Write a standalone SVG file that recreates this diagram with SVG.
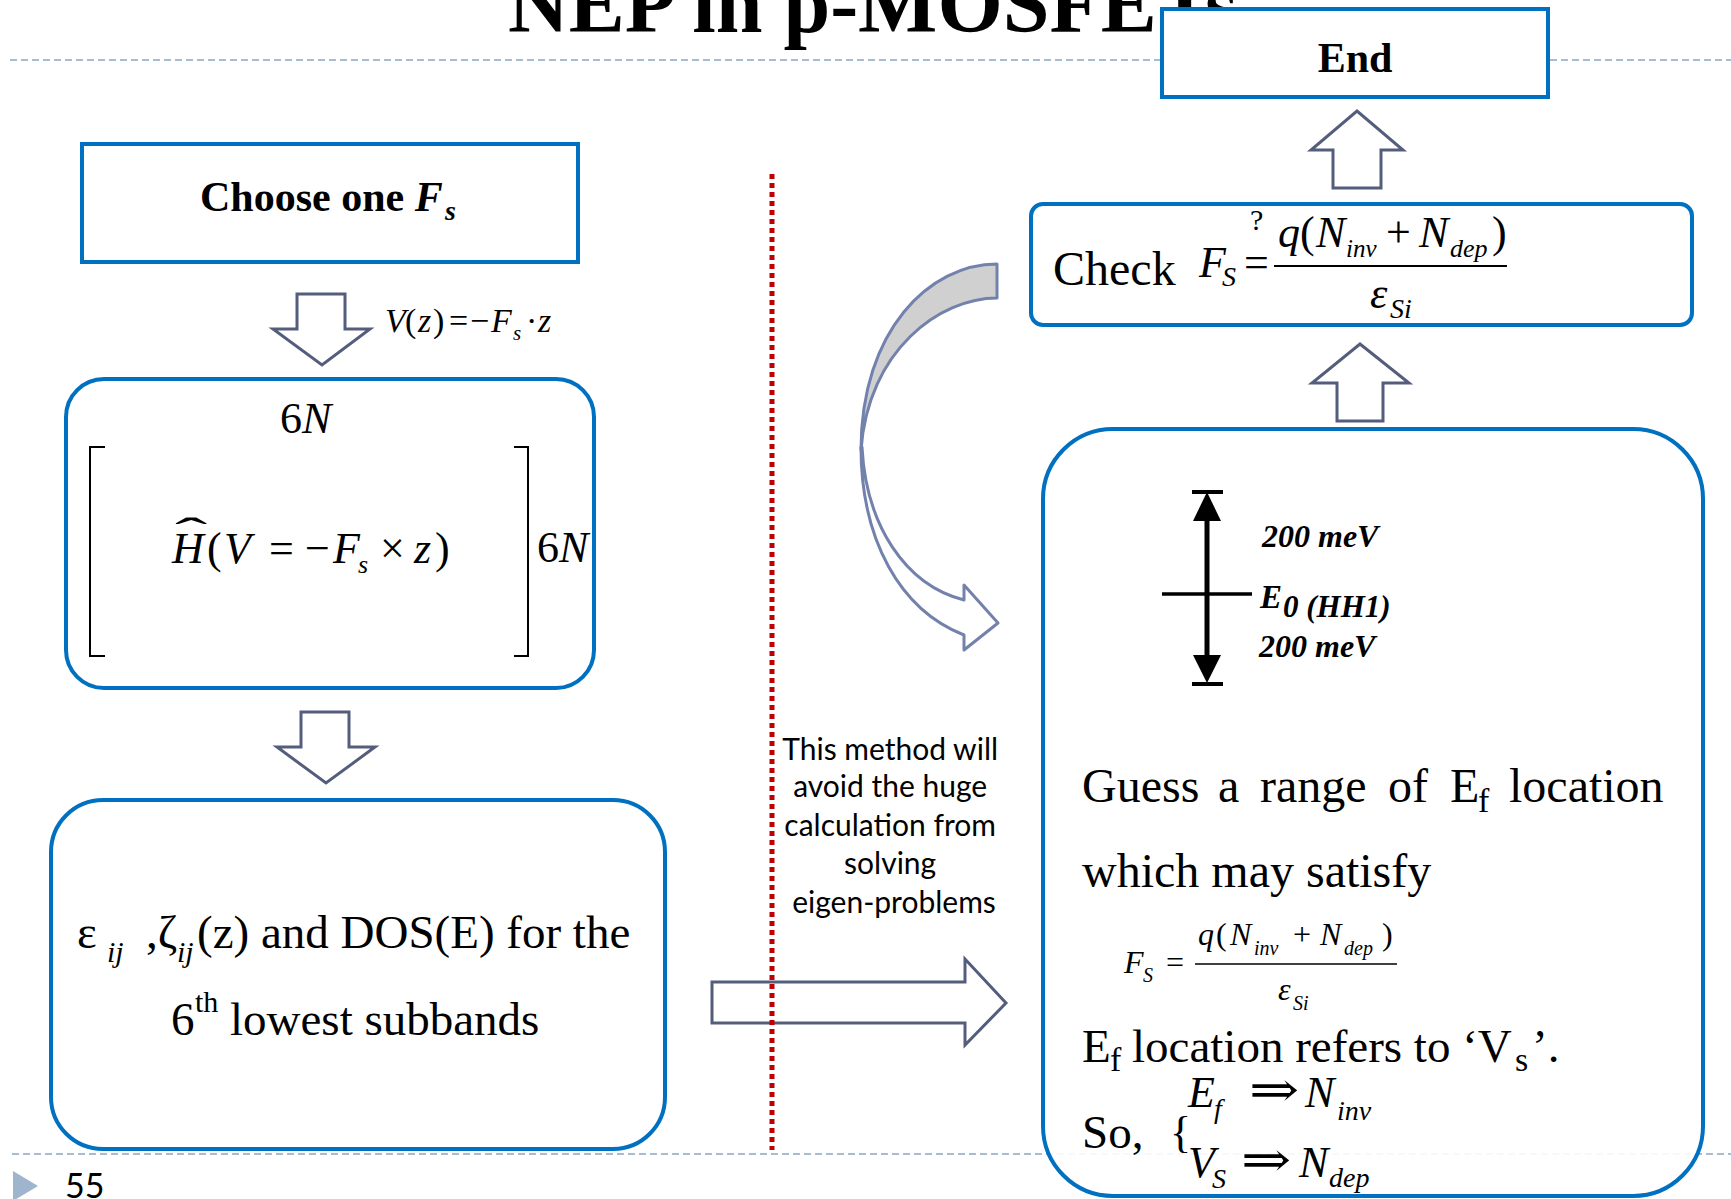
<svg xmlns="http://www.w3.org/2000/svg" width="1731" height="1199" viewBox="0 0 1731 1199">
<style>
.bg{fill:#ffffff}
.box{fill:#ffffff;stroke:#0070c0;stroke-width:4}
.blk{fill:#ffffff;stroke:#555d7c;stroke-width:3;stroke-linejoin:miter}
.guide{stroke:#a7bbd3;stroke-width:2;stroke-dasharray:7 4;fill:none}
.s{font-family:"Liberation Serif","Times New Roman",serif;fill:#000}
.arr{font-family:"DejaVu Serif","Liberation Serif",serif;fill:#000}
.i{font-style:italic}
.b{font-weight:bold}
.g{font-family:Lato,"Open Sans",sans-serif;fill:#000}
</style>
<rect class="bg" x="0" y="0" width="1731" height="1199"/>
<g id="slide-frame">
  <text class="s b" x="508" y="32" font-size="84">NEP in p-MOSFETs</text>
  <line class="guide" x1="10" y1="60" x2="1731" y2="60"/>
  <line class="guide" x1="12" y1="1154" x2="1731" y2="1154"/>
  <polygon points="13,1171 38,1186 13,1201" fill="#9fb4cd"/>
  <text class="g" x="65" y="1198" font-size="34" fill="#404040">55</text>
</g>

<g id="connectors">
  <polygon class="blk" points="297,294 345,294 345,329 370,329 322,365 273,329 297,329"/>
  <text class="s i" x="385" y="332" font-size="34">V</text>
  <text class="s" x="405" y="332" font-size="34">(</text>
  <text class="s i" x="418" y="332" font-size="34">z</text>
  <text class="s" x="433" y="332" font-size="34">)</text>
  <text class="s" x="449" y="332" font-size="34">=</text>
  <text class="s" x="470" y="332" font-size="34">−</text>
  <text class="s i" x="491" y="332" font-size="34">F</text>
  <text class="s i" x="513" y="340" font-size="21">s</text>
  <text class="s" x="526" y="332" font-size="34">·</text>
  <text class="s i" x="538" y="332" font-size="34">z</text>
  <polygon class="blk" points="301,712 349,712 349,747 375,747 326,783 277,747 301,747"/>
  <polygon class="blk" points="712,982 965,982 965,959 1006,1003 965,1045 965,1023 712,1023"/>
  <polygon class="blk" points="1333,188 1381,188 1381,150 1403,150 1357,111 1311,150 1333,150"/>
  <polygon class="blk" points="1337,421 1383,421 1383,383 1409,383 1360,344 1312,383 1337,383"/>
  <g id="curved-arrow" stroke="#7381ad" stroke-width="3" stroke-linejoin="round">
    <path d="M 861 447 C 861 540 900 610 964 635 L 964 650 L 998 623 L 964 585 L 964 600 C 905 585 866 525 862 447 Z" fill="#ffffff"/>
    <path d="M 997 264 C 930 264 861 330 861 450 C 868 350 940 298 997 298 Z" fill="#d0d0d0"/>
  </g>
  <line x1="772" y1="174" x2="772" y2="1150" stroke="#c00000" stroke-width="5" stroke-dasharray="5 4"/>
</g>

<g id="node-choose">
  <rect class="box" x="82" y="144" width="496" height="118"/>
  <text class="s b" x="200" y="211" font-size="42">Choose one <tspan class="i">F</tspan></text>
  <text class="s b i" x="445" y="220" font-size="28">s</text>
</g>

<g id="node-hamiltonian">
  <rect class="box" x="66" y="379" width="528" height="309" rx="38"/>
  <text class="s" x="280" y="433" font-size="44">6<tspan class="i">N</tspan></text>
  <path d="M105 447 H90 V656 H105 M514 447 H528 V656 H514" fill="none" stroke="#000" stroke-width="2"/>
  <text class="s i" x="172" y="563" font-size="44">H</text>
  <text class="s" transform="translate(191,548) scale(2.2,1)" text-anchor="middle" font-size="44">ˆ</text>
  <text class="s" x="207" y="563" font-size="44">(</text>
  <text class="s i" x="224" y="563" font-size="44">V</text>
  <text class="s" x="269" y="563" font-size="44">=</text>
  <text class="s" x="305" y="563" font-size="44">−</text>
  <text class="s i" x="333" y="563" font-size="44">F</text>
  <text class="s i" x="358" y="573" font-size="26">s</text>
  <text class="s" x="380" y="563" font-size="44">×</text>
  <text class="s i" x="414" y="563" font-size="44">z</text>
  <text class="s" x="435" y="563" font-size="44">)</text>
  <text class="s" x="537" y="562" font-size="44">6<tspan class="i">N</tspan></text>
</g>

<g id="node-subbands">
  <rect class="box" x="51" y="800" width="614" height="349" rx="52"/>
  <text class="s" x="77" y="948" font-size="47">ε</text>
  <text class="s i" x="107" y="962" font-size="30">ij</text>
  <text class="s" x="146" y="948" font-size="47">,ζ</text>
  <text class="s i" x="177" y="962" font-size="30">ij</text>
  <text class="s" x="197" y="948" font-size="47">(z) and DOS(E) for the</text>
  <text class="s" x="171" y="1035" font-size="47">6</text>
  <text class="s" x="195" y="1012" font-size="30">th</text>
  <text class="s" x="230" y="1035" font-size="47">lowest subbands</text>
</g>

<g id="note">
  <text class="g" font-size="30" text-anchor="middle">
    <tspan x="894" y="760">This method will</tspan>
    <tspan x="894" y="797">avoid the huge</tspan>
    <tspan x="894" y="836">calculation from</tspan>
    <tspan x="894" y="874">solving</tspan>
    <tspan x="894" y="913">eigen-problems</tspan>
  </text>
</g>

<g id="node-end">
  <rect class="box" x="1162" y="9" width="386" height="88"/>
  <text class="s b" x="1355" y="72" font-size="42" text-anchor="middle">End</text>
</g>

<g id="node-check">
  <rect class="box" x="1031" y="204" width="661" height="121" rx="12"/>
  <text class="s" x="1053" y="285" font-size="48">Check</text>
  <text class="s i" x="1199" y="277" font-size="44">F</text>
  <text class="s i" x="1222" y="286" font-size="28">S</text>
  <text class="s" x="1244" y="277" font-size="44">=</text>
  <text class="s" x="1250" y="230" font-size="30">?</text>
  <line x1="1274" y1="266" x2="1507" y2="266" stroke="#000" stroke-width="2"/>
  <text class="s i" x="1278" y="247" font-size="44">q</text>
  <text class="s" x="1300" y="247" font-size="44">(</text>
  <text class="s i" x="1316" y="247" font-size="44">N</text>
  <text class="s i" x="1346" y="257" font-size="25">inv</text>
  <text class="s" x="1386" y="247" font-size="44">+</text>
  <text class="s i" x="1419" y="247" font-size="44">N</text>
  <text class="s i" x="1450" y="257" font-size="26">dep</text>
  <text class="s" x="1492" y="247" font-size="44">)</text>
  <text class="s i" x="1370" y="308" font-size="44">ε</text>
  <text class="s i" x="1390" y="318" font-size="28">Si</text>
</g>

<g id="node-guess">
  <rect class="box" x="1043" y="429" width="660" height="767" rx="70" fill-opacity="0.9"/>
  <g id="energy-range">
    <line x1="1207" y1="512" x2="1207" y2="664" stroke="#000" stroke-width="5"/>
    <polygon points="1207,492 1193,521 1221,521" fill="#000"/>
    <polygon points="1193,655 1221,655 1207,683" fill="#000"/>
    <line x1="1192" y1="492" x2="1223" y2="492" stroke="#000" stroke-width="4"/>
    <line x1="1192" y1="684" x2="1223" y2="684" stroke="#000" stroke-width="4"/>
    <line x1="1162" y1="594" x2="1252" y2="594" stroke="#000" stroke-width="3.5"/>
    <text class="s b i" x="1262" y="547" font-size="32">200 meV</text>
    <text class="s b i" x="1260" y="608" font-size="33">E</text>
    <text class="s b i" x="1283" y="617" font-size="31">0 (HH1)</text>
    <text class="s b i" x="1259" y="657" font-size="32">200 meV</text>
  </g>
  <text class="s" y="802" font-size="48"><tspan x="1082">Guess</tspan><tspan x="1218">a</tspan><tspan x="1260">range</tspan><tspan x="1388">of</tspan><tspan x="1450">E</tspan></text>
  <text class="s" x="1478" y="812" font-size="34">f</text>
  <text class="s" x="1509" y="802" font-size="48">location</text>
  <text class="s" x="1082" y="887" font-size="48">which may satisfy</text>
  <text class="s i" x="1124" y="973" font-size="32">F</text>
  <text class="s i" x="1143" y="982" font-size="20">S</text>
  <text class="s" x="1166" y="973" font-size="32">=</text>
  <line x1="1195" y1="964" x2="1397" y2="964" stroke="#000" stroke-width="1.5"/>
  <text class="s i" x="1198" y="945" font-size="32">q</text>
  <text class="s" x="1216" y="945" font-size="32">(</text>
  <text class="s i" x="1230" y="945" font-size="32">N</text>
  <text class="s i" x="1254" y="955" font-size="20">inv</text>
  <text class="s" x="1293" y="945" font-size="32">+</text>
  <text class="s i" x="1320" y="945" font-size="32">N</text>
  <text class="s i" x="1344" y="955" font-size="20">dep</text>
  <text class="s" x="1382" y="945" font-size="32">)</text>
  <text class="s i" x="1278" y="1000" font-size="32">ε</text>
  <text class="s i" x="1293" y="1010" font-size="20">Si</text>
  <text class="s" x="1082" y="1062" font-size="47">E</text>
  <text class="s" x="1110" y="1071" font-size="34">f</text>
  <text class="s" x="1132" y="1062" font-size="47">location refers to ‘V</text>
  <text class="s" x="1515" y="1071" font-size="34">s</text>
  <text class="s" x="1532" y="1062" font-size="47">’.</text>
  <text class="s" x="1082" y="1148" font-size="47">So,</text>
  <text class="s" x="1170" y="1147" font-size="44">{</text>
  <text class="s i" x="1188" y="1107" font-size="44">E</text>
  <text class="s i" x="1214" y="1118" font-size="28">f</text>
  <text class="arr" transform="translate(1249,1106) scale(1.25,1)" font-size="48">⇒</text>
  <text class="s i" x="1305" y="1107" font-size="44">N</text>
  <text class="s i" x="1337" y="1120" font-size="28">inv</text>
  <text class="s i" x="1188" y="1177" font-size="44">V</text>
  <text class="s i" x="1212" y="1188" font-size="28">S</text>
  <text class="arr" transform="translate(1241,1176) scale(1.25,1)" font-size="48">⇒</text>
  <text class="s i" x="1299" y="1177" font-size="44">N</text>
  <text class="s i" x="1329" y="1187" font-size="28">dep</text>
</g>
</svg>
